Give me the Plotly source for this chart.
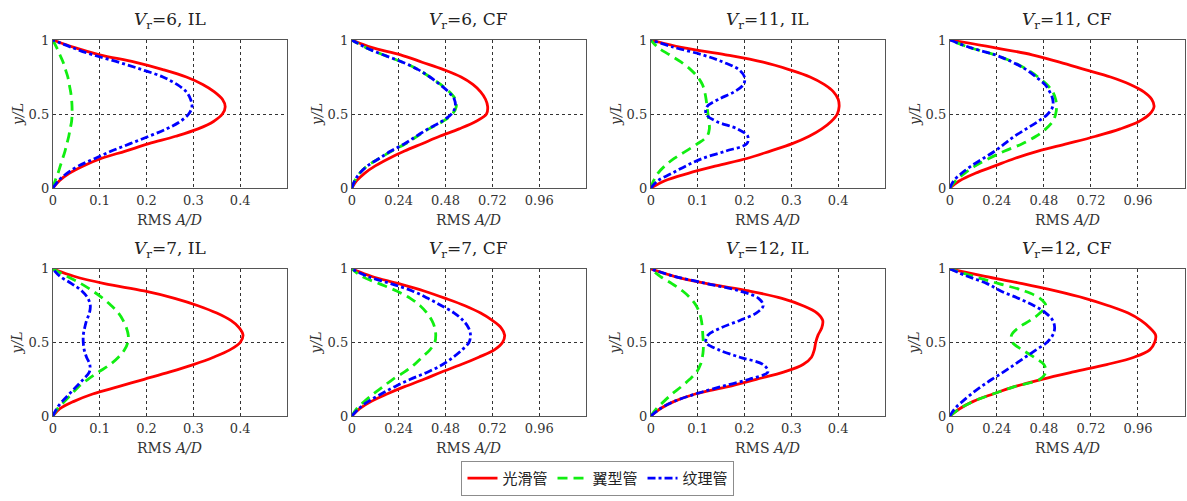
import plotly.graph_objects as go

W, H = 1187, 501

Y_LEVELS = [0, 0.05, 0.1, 0.15, 0.2, 0.25, 0.3, 0.35, 0.4, 0.45, 0.5,
            0.55, 0.6, 0.65, 0.7, 0.75, 0.8, 0.85, 0.9, 0.95, 1.0]

SERIES_NAMES = ["光滑管", "翼型管", "纹理管"]

# Vr=6, IL
v6_il_smooth = [0, 0.014, 0.035, 0.065, 0.103, 0.155, 0.205, 0.262, 0.31, 0.343, 0.362, 0.368, 0.362, 0.345, 0.32, 0.285, 0.235, 0.175, 0.10, 0.045, 0]
v6_il_wing = [0, 0.005, 0.011, 0.016, 0.021, 0.026, 0.03, 0.034, 0.037, 0.04, 0.041, 0.041, 0.04, 0.038, 0.035, 0.032, 0.027, 0.022, 0.015, 0.008, 0]
v6_il_tex = [0, 0.012, 0.03, 0.055, 0.09, 0.125, 0.165, 0.205, 0.243, 0.272, 0.29, 0.297, 0.294, 0.285, 0.265, 0.235, 0.19, 0.14, 0.085, 0.04, 0]
# Vr=6, CF
v6_cf_smooth = [0, 0.025, 0.065, 0.12, 0.19, 0.27, 0.36, 0.45, 0.55, 0.635, 0.69, 0.696, 0.685, 0.66, 0.62, 0.56, 0.47, 0.36, 0.25, 0.1, 0]
v6_cf_wing = [0, 0.015, 0.04, 0.08, 0.14, 0.205, 0.275, 0.335, 0.395, 0.465, 0.515, 0.535, 0.53, 0.5, 0.455, 0.4, 0.34, 0.26, 0.16, 0.07, 0]
v6_cf_tex = [0, 0.015, 0.04, 0.08, 0.14, 0.2, 0.27, 0.33, 0.39, 0.46, 0.51, 0.53, 0.525, 0.495, 0.45, 0.4, 0.34, 0.26, 0.16, 0.07, 0]
# Vr=11, IL
v11_il_smooth = [0, 0.03, 0.08, 0.14, 0.205, 0.255, 0.302, 0.338, 0.365, 0.385, 0.398, 0.402, 0.4, 0.39, 0.37, 0.34, 0.295, 0.24, 0.16, 0.065, 0]
v11_il_wing = [0, 0.006, 0.015, 0.03, 0.05, 0.075, 0.1, 0.12, 0.125, 0.124, 0.122, 0.12, 0.118, 0.115, 0.11, 0.1, 0.085, 0.065, 0.04, 0.015, 0]
v11_il_tex = [0, 0.015, 0.045, 0.075, 0.11, 0.16, 0.205, 0.207, 0.185, 0.14, 0.118, 0.12, 0.145, 0.178, 0.198, 0.2, 0.188, 0.155, 0.11, 0.05, 0]
# Vr=11, CF
v11_cf_smooth = [0, 0.05, 0.13, 0.23, 0.33, 0.45, 0.6, 0.745, 0.87, 0.965, 1.02, 1.042, 1.03, 0.99, 0.92, 0.82, 0.69, 0.56, 0.42, 0.22, 0]
v11_cf_wing = [0, 0.03, 0.075, 0.13, 0.2, 0.28, 0.37, 0.44, 0.49, 0.525, 0.54, 0.545, 0.54, 0.525, 0.495, 0.45, 0.395, 0.325, 0.23, 0.1, 0]
v11_cf_tex = [0, 0.02, 0.06, 0.11, 0.17, 0.23, 0.28, 0.33, 0.39, 0.45, 0.5, 0.525, 0.525, 0.51, 0.485, 0.44, 0.39, 0.32, 0.23, 0.1, 0]
# Vr=7, IL
v7_il_smooth = [0, 0.015, 0.045, 0.085, 0.14, 0.195, 0.25, 0.3, 0.343, 0.378, 0.4, 0.406, 0.398, 0.38, 0.35, 0.31, 0.26, 0.195, 0.11, 0.045, 0]
v7_il_wing = [0, 0.01, 0.025, 0.04, 0.055, 0.075, 0.098, 0.122, 0.14, 0.153, 0.16, 0.161, 0.157, 0.15, 0.14, 0.125, 0.107, 0.085, 0.06, 0.03, 0]
v7_il_tex = [0, 0.008, 0.02, 0.035, 0.05, 0.065, 0.078, 0.079, 0.072, 0.067, 0.065, 0.065, 0.068, 0.072, 0.078, 0.08, 0.075, 0.062, 0.04, 0.015, 0]
# Vr=7, CF
v7_cf_smooth = [0, 0.04, 0.1, 0.18, 0.27, 0.37, 0.46, 0.56, 0.65, 0.73, 0.772, 0.783, 0.765, 0.72, 0.66, 0.58, 0.48, 0.37, 0.24, 0.1, 0]
v7_cf_wing = [0, 0.025, 0.065, 0.11, 0.16, 0.21, 0.27, 0.32, 0.36, 0.4, 0.425, 0.43, 0.425, 0.41, 0.385, 0.35, 0.3, 0.23, 0.14, 0.05, 0]
v7_cf_tex = [0, 0.035, 0.085, 0.15, 0.22, 0.3, 0.39, 0.465, 0.52, 0.565, 0.6, 0.608, 0.598, 0.57, 0.525, 0.46, 0.39, 0.31, 0.2, 0.08, 0]
# Vr=12, IL
v12_il_smooth = [0, 0.02, 0.05, 0.095, 0.165, 0.225, 0.285, 0.325, 0.343, 0.349, 0.352, 0.357, 0.365, 0.367, 0.355, 0.325, 0.28, 0.21, 0.12, 0.05, 0]
v12_il_wing = [0, 0.012, 0.028, 0.045, 0.065, 0.083, 0.098, 0.106, 0.11, 0.112, 0.112, 0.111, 0.11, 0.108, 0.104, 0.097, 0.085, 0.068, 0.045, 0.02, 0]
v12_il_tex = [0, 0.02, 0.05, 0.095, 0.15, 0.21, 0.25, 0.24, 0.19, 0.145, 0.118, 0.122, 0.15, 0.19, 0.225, 0.24, 0.23, 0.19, 0.12, 0.05, 0]
# Vr=12, CF
v12_cf_smooth = [0, 0.05, 0.12, 0.22, 0.33, 0.47, 0.63, 0.8, 0.94, 1.02, 1.045, 1.05, 1.02, 0.975, 0.91, 0.81, 0.69, 0.54, 0.37, 0.18, 0]
v12_cf_wing = [0, 0.05, 0.12, 0.22, 0.33, 0.46, 0.49, 0.48, 0.43, 0.37, 0.32, 0.315, 0.35, 0.41, 0.46, 0.49, 0.46, 0.38, 0.25, 0.12, 0]
v12_cf_tex = [0, 0.025, 0.065, 0.11, 0.16, 0.215, 0.275, 0.33, 0.385, 0.44, 0.495, 0.525, 0.535, 0.525, 0.49, 0.43, 0.35, 0.26, 0.19, 0.09, 0]

IL_TICKS = [0, 0.1, 0.2, 0.3, 0.4]
IL_TICKTEXT = ["0", "0.1", "0.2", "0.3", "0.4"]
CF_TICKS = [0, 0.24, 0.48, 0.72, 0.96]
CF_TICKTEXT = ["0", "0.24", "0.48", "0.72", "0.96"]
Y_TICKS = [0, 0.5, 1]
Y_TICKTEXT = ["0", "0.5", "1"]

PANELS = [
    ("6", "IL", v6_il_smooth, v6_il_wing, v6_il_tex),
    ("6", "CF", v6_cf_smooth, v6_cf_wing, v6_cf_tex),
    ("11", "IL", v11_il_smooth, v11_il_wing, v11_il_tex),
    ("11", "CF", v11_cf_smooth, v11_cf_wing, v11_cf_tex),
    ("7", "IL", v7_il_smooth, v7_il_wing, v7_il_tex),
    ("7", "CF", v7_cf_smooth, v7_cf_wing, v7_cf_tex),
    ("12", "IL", v12_il_smooth, v12_il_wing, v12_il_tex),
    ("12", "CF", v12_cf_smooth, v12_cf_wing, v12_cf_tex),
]

# layout geometry (pixels)
COL_X = [(49, 284), (349, 584), (649, 884), (949, 1185)]
ROW_Y = [(34, 186.7), (270, 421.7)]

COLORS = ["#ff0000", "#11ee11", "#0000ff"]
DASHES = ["solid", "10px,6px", "8px,3px,3px,3px"]
SERIF = "DejaVu Serif, serif"

fig = go.Figure()
annotations = []

for i, (vr, mode, smooth, wing, tex) in enumerate(PANELS):
    r, c = divmod(i, 4)
    n = i + 1
    xa = "x" if n == 1 else f"x{n}"
    ya = "y" if n == 1 else f"y{n}"
    for k, vals in enumerate([smooth, wing, tex]):
        fig.add_trace(go.Scatter(
            x=vals, y=Y_LEVELS, mode="lines", name=SERIES_NAMES[k],
            line=dict(color=COLORS[k], width=2.8, dash=DASHES[k], shape="spline", smoothing=1.0),
            showlegend=(i == 0), xaxis=xa, yaxis=ya, cliponaxis=True,
        ))
    x0, x1 = COL_X[c]
    y0, y1 = ROW_Y[r]
    is_il = mode == "IL"
    axis_common = dict(
        showline=True, mirror=True, linecolor="#555555", linewidth=1,
        showgrid=True, gridcolor="#333333", gridwidth=1, griddash="3px,3px",
        zeroline=False, ticks="", tickfont=dict(family=SERIF, size=13, color="#333333"),
        fixedrange=True,
    )
    fig.layout[f"xaxis{'' if n == 1 else n}"] = dict(
        domain=[x0 / W, x1 / W], anchor=ya,
        range=[0, 0.5] if is_il else [0, 1.2],
        tickvals=IL_TICKS if is_il else CF_TICKS,
        ticktext=IL_TICKTEXT if is_il else CF_TICKTEXT,
        **axis_common,
    )
    fig.layout[f"yaxis{'' if n == 1 else n}"] = dict(
        domain=[1 - y1 / H, 1 - y0 / H], anchor=xa,
        range=[0, 1], tickvals=Y_TICKS, ticktext=Y_TICKTEXT,
        **axis_common,
    )
    cx = (x0 + x1) / 2 / W
    annotations.append(dict(
        text=f"<i>V</i><sub>r</sub>={vr}, {mode}",
        x=cx, y=1 - (y0 - 20) / H, xref="paper", yref="paper",
        xanchor="center", yanchor="middle", showarrow=False,
        font=dict(family=SERIF, size=17, color="#222222"),
    ))
    annotations.append(dict(
        text="RMS <i>A/D</i>", x=cx, y=1 - (y1 + 33) / H,
        xref="paper", yref="paper", xanchor="center", yanchor="middle",
        showarrow=False, font=dict(family=SERIF, size=14, color="#333333"),
    ))
    annotations.append(dict(
        text="<i>y/L</i>", x=(x0 - 35) / W, y=1 - (y0 + y1) / 2 / H,
        xref="paper", yref="paper", xanchor="center", yanchor="middle",
        textangle=-90, showarrow=False,
        font=dict(family=SERIF, size=14, color="#333333"),
    ))

fig.update_layout(
    width=W, height=H, margin=dict(l=0, r=0, t=0, b=0),
    paper_bgcolor="white", plot_bgcolor="white",
    annotations=annotations,
    legend=dict(
        orientation="h", x=596 / W, y=1 - 486 / H, xanchor="center", yanchor="middle",
        bordercolor="#8c8c8c", borderwidth=1, bgcolor="white",
        font=dict(family="Noto Sans CJK SC", size=15, color="#222222"),
        itemwidth=30, tracegroupgap=0,
    ),
)

fig.write_html("out.html")
